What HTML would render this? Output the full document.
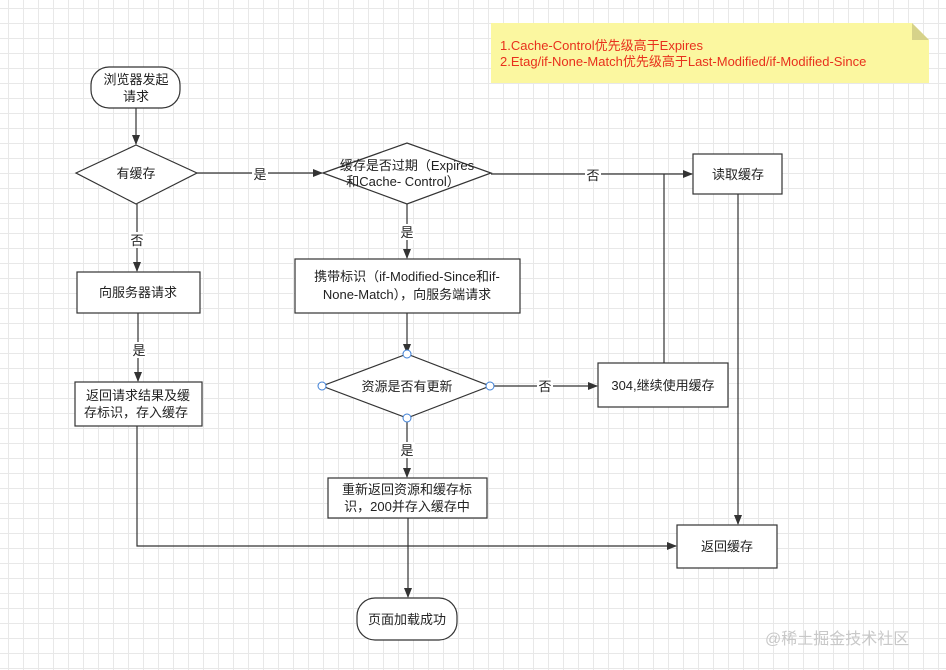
<!DOCTYPE html>
<html><head><meta charset="utf-8"><style>
html,body{margin:0;padding:0;}
body{width:946px;height:670px;overflow:hidden;background:#fff;
background-image:linear-gradient(#e8e8e8 1px,transparent 1px),linear-gradient(90deg,#e8e8e8 1px,transparent 1px);
background-size:15px 15px;background-position:8px 8px;}
svg{position:absolute;left:0;top:0;}
text{font-family:"Liberation Sans","Noto Sans CJK SC",sans-serif;font-size:13px;fill:#222;}
</style></head><body>
<svg width="946" height="670" viewBox="0 0 946 670">
<defs><marker id="a" markerWidth="10" markerHeight="8" refX="9" refY="4" orient="auto" markerUnits="userSpaceOnUse"><path d="M0,0 L10,4 L0,8 Z" fill="#333"/></marker></defs>
<g fill="none" stroke="#333" stroke-width="1.2">
<path d="M491,23 H912 L929,40 V83 H491 Z" fill="#fbf7a0" stroke="none"/>
<path d="M912,23 V40 H929 Z" fill="#d6d28a" stroke="none"/>
<rect x="91" y="67" width="89" height="41" rx="18" fill="#fff"/>
<path d="M76,173 L136,145 L197,173 L136,204 Z" fill="#fff"/>
<path d="M323,173 L407,143 L491,173 L407,204 Z" fill="#fff"/>
<rect x="693" y="154" width="89" height="40" fill="#fff"/>
<rect x="77" y="272" width="123" height="41" fill="#fff"/>
<rect x="75" y="382" width="127" height="44" fill="#fff"/>
<rect x="295" y="259" width="225" height="54" fill="#fff"/>
<path d="M322,386 L407,354 L490,386 L407,418 Z" fill="#fff"/>
<rect x="598" y="363" width="130" height="44" fill="#fff"/>
<rect x="328" y="478" width="159" height="40" fill="#fff"/>
<rect x="677" y="525" width="100" height="43" fill="#fff"/>
<rect x="357" y="598" width="100" height="42" rx="18" fill="#fff"/>
<path d="M136,108 V144" marker-end="url(#a)"/>
<path d="M197,173 H322" marker-end="url(#a)"/>
<path d="M491,174 H692" marker-end="url(#a)"/>
<path d="M137,204 V271" marker-end="url(#a)"/>
<path d="M138,313 V381" marker-end="url(#a)"/>
<path d="M137,426 V546 H676" marker-end="url(#a)"/>
<path d="M407,204 V258" marker-end="url(#a)"/>
<path d="M407,313 V353" marker-end="url(#a)"/>
<path d="M490,386 H597" marker-end="url(#a)"/>
<path d="M664,363 V174"/>
<path d="M738,194 V524" marker-end="url(#a)"/>
<path d="M407,418 V477" marker-end="url(#a)"/>
<path d="M408,518 V597" marker-end="url(#a)"/>
</g>
<g fill="#fff" stroke="#3d7fd6" stroke-width="1">
<circle cx="407" cy="354" r="4"/><circle cx="322" cy="386" r="4"/><circle cx="490" cy="386" r="4"/><circle cx="407" cy="418" r="4"/>
</g>
<g fill="#fff"><rect x="252" y="166" width="16" height="16"/><rect x="585" y="166" width="16" height="16"/><rect x="129" y="232" width="16" height="16"/><rect x="131" y="342" width="16" height="16"/><rect x="399" y="224" width="16" height="16"/><rect x="537" y="378" width="16" height="16"/><rect x="399" y="442" width="16" height="16"/></g>
<g text-anchor="middle">
<text x="136" y="84">浏览器发起</text><text x="136" y="101">请求</text>
<text x="136" y="178">有缓存</text>
<text x="407" y="170">缓存是否过期（Expires</text><text x="403" y="186">和Cache- Control）</text>
<text x="738" y="179">读取缓存</text>
<text x="138" y="297">向服务器请求</text>
<text x="138" y="400">返回请求结果及缓</text><text x="136" y="417">存标识，存入缓存</text>
<text x="407" y="281">携带标识（if-Modified-Since和if-</text><text x="407" y="299">None-Match），向服务端请求</text>
<text x="407" y="391">资源是否有更新</text>
<text x="663" y="390">304,继续使用缓存</text>
<text x="407" y="494">重新返回资源和缓存标</text><text x="407" y="511">识，200并存入缓存中</text>
<text x="727" y="551">返回缓存</text>
<text x="407" y="624">页面加载成功</text>
<text x="260" y="179">是</text><text x="593" y="180">否</text><text x="137" y="245">否</text><text x="139" y="355">是</text><text x="407" y="237">是</text><text x="545" y="391">否</text><text x="407" y="455">是</text>
</g>
<text x="500" y="50" style="font-size:13px;fill:#e8301c">1.Cache-Control优先级高于Expires</text>
<text x="500" y="66" style="font-size:13px;fill:#e8301c">2.Etag/if-None-Match优先级高于Last-Modified/if-Modified-Since</text>
<text x="765" y="644" style="font-size:16px;fill:#c8c8c8">@稀土掘金技术社区</text>
</svg>
</body></html>
